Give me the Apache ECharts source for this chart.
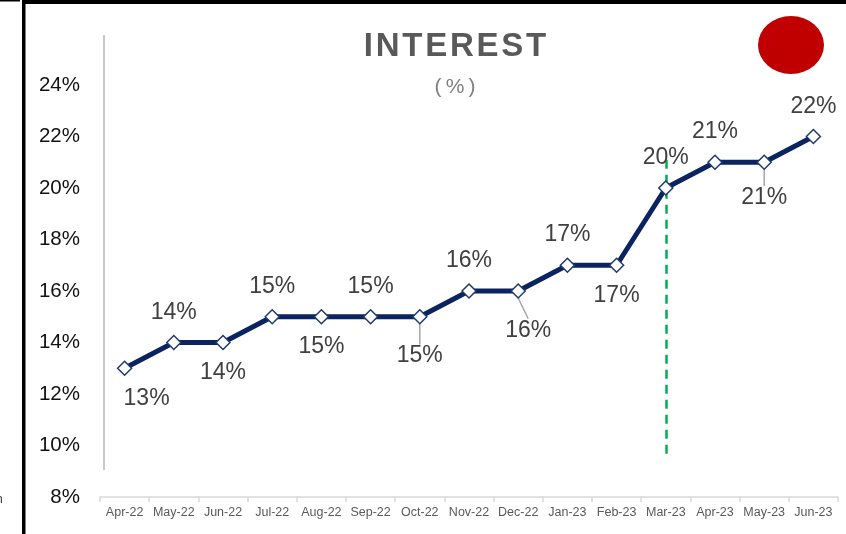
<!DOCTYPE html>
<html><head><meta charset="utf-8">
<script src="https://cdn.jsdelivr.net/npm/echarts@6/dist/echarts.min.js"></script>
<style>html,body{margin:0;padding:0;background:#fff}#c{width:846px;height:534px}</style>
</head><body><div id="c"></div>
<script>
const months = ['Apr-22','May-22','Jun-22','Jul-22','Aug-22','Sep-22','Oct-22','Nov-22','Dec-22','Jan-23','Feb-23','Mar-23','Apr-23','May-23','Jun-23'];
const interest = [13,14,14,15,15,15,15,16,16,17,17,20,21,21,22];
const yTicks = {min: 8, max: 24, step: 2};
const markerMonth = 'Mar-23';
const markerRange = [21.1, 9.5];

// label styling per point (above / below, with leader line)
const labelSide = ['bottom','top','bottom','top','bottom','top','bottom','top','bottom','top','bottom','top','top','bottom','top'];
const shifted = {0:[22,0], 6:[0,16], 8:[10,16], 13:[0,12]};
const withLeader = [6, 8, 13];

const chart = echarts.init(document.getElementById('c'));
const navy = '#0b2460';
const data = interest.map((v,i)=>{
  const item = {value: v, label: {position: labelSide[i], distance: labelSide[i]==='top' ? 11 : 11}};
  if (withLeader.includes(i)) { item.label.distance = 4; item.labelLine = {show: true, lineStyle:{color:'#a6a6a6', width:1.5}}; }
  return item;
});
chart.setOption({
  animation: false,
  backgroundColor: '#ffffff',
  grid: {left: 100, right: 8, top: 85, bottom: 37},
  xAxis: {
    type: 'category', data: months, boundaryGap: true,
    axisLine: {show: true, lineStyle: {color: '#d9d9d9', width: 1.5}},
    axisTick: {show: true, alignWithLabel: false, length: 5, lineStyle: {color: '#d9d9d9', width: 1.5}},
    axisLabel: {color: '#595959', fontSize: 12.5, fontFamily: 'Liberation Sans, Arial', margin: 9, interval: 0}
  },
  yAxis: {
    type: 'value', min: yTicks.min, max: yTicks.max, interval: yTicks.step,
    axisLine: {show: false}, axisTick: {show: false}, splitLine: {show: false},
    axisLabel: {formatter: '{value}%', color: '#111', fontSize: 20.5, fontFamily: 'Liberation Sans, Arial', margin: 20}
  },
  series: [{
    type: 'line', data: data,
    lineStyle: {color: navy, width: 5},
    symbol: 'diamond', symbolSize: 14,
    itemStyle: {color: '#ffffff', borderColor: '#1f3a6e', borderWidth: 1.5},
    label: {show: true, formatter: '{c}%', fontSize: 23, color: '#404040', fontFamily: 'Liberation Sans, Arial'},
    labelLayout: function(p){ const l = shifted[p.dataIndex]; return l ? {dx: l[0], dy: l[1]} : {}; },
    z: 3,
    markLine: {
      silent: true, symbol: 'none', label: {show: false},
      lineStyle: {color: '#00b050', type: [9, 6], width: 2.5},
      data: [[{coord: [markerMonth, markerRange[0]]}, {coord: [markerMonth, markerRange[1]]}]],
      z: 2
    }
  }],
  graphic: [
    {type: 'rect', shape: {x: 22, y: 0, width: 3.5, height: 534}, style: {fill: '#000'}},
    {type: 'rect', shape: {x: 22, y: 0, width: 824, height: 4}, style: {fill: '#000'}},
    {type: 'rect', shape: {x: 0, y: 0, width: 20, height: 1.5}, style: {fill: '#000'}},
    {type: 'line', shape: {x1: 104, y1: 35, x2: 104, y2: 470}, style: {stroke: '#c8c8c8', lineWidth: 2}},
    {type: 'text', x: 455, y: 47, style: {text: 'I\u200AN\u200AT\u200AE\u200AR\u200AE\u200AS\u200AT', fill: '#595959', font: 'bold 33px "Liberation Sans", Arial', align: 'center', verticalAlign: 'middle'}},
    {type: 'text', x: 455, y: 87, style: {text: '(\u2009%\u2009)', fill: '#7f7f7f', font: '21px "Liberation Sans", Arial', align: 'center', verticalAlign: 'middle'}},
    {type: 'circle', x: 791, y: 45, scaleX: 33/29, shape: {cx: 0, cy: 0, r: 29}, style: {fill: '#c00000'}},
    {type: 'text', x: -4, y: 500, style: {text: 'n', fill: '#333', font: '12px "Liberation Sans", Arial', verticalAlign: 'middle'}}
  ]
});
</script></body></html>
